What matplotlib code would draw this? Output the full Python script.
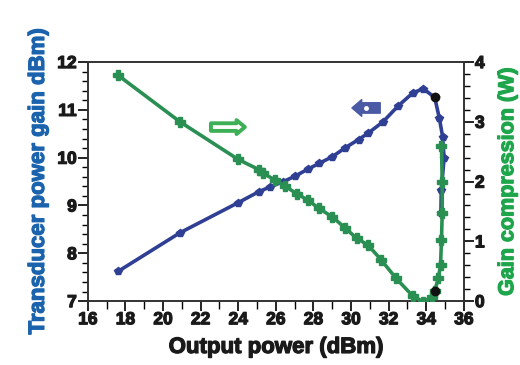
import numpy as np
import matplotlib.pyplot as plt
import matplotlib.patheffects as pe
from matplotlib.ticker import MultipleLocator

plt.rcParams['font.family'] = ['Liberation Sans', 'DejaVu Sans']
plt.rcParams['font.weight'] = 'bold'

# transducer power gain (left axis)
gain_x = [17.6, 20.9, 24.0, 25.1, 25.7, 26.4, 27.0, 27.7, 28.3, 29.0, 29.7, 30.4,
          30.9, 31.7, 32.5, 33.3, 33.85, 34.45, 34.7, 34.87, 34.95, 34.8, 34.78]
gain_y = [7.62, 8.43, 9.06, 9.29, 9.39, 9.50, 9.61, 9.76, 9.88, 10.02, 10.21, 10.38,
          10.51, 10.75, 11.08, 11.36, 11.44, 11.26, 10.82, 10.44, 9.99, 9.32, 8.85]

# gain compression (right axis)
comp_x = [17.6, 20.9, 24.0, 25.1, 25.3, 25.95, 26.5, 27.1, 27.7, 28.3, 29.0, 29.7,
          30.3, 30.9, 31.6, 32.4, 33.3, 33.85, 34.3, 34.45, 34.64, 34.76, 34.81,
          34.85, 34.85, 34.81]
comp_y = [3.78, 3.0, 2.37, 2.2, 2.14, 2.03, 1.92, 1.80, 1.69, 1.55, 1.41, 1.22,
          1.05, 0.94, 0.69, 0.38, 0.08, -0.01, 0.07, 0.17, 0.38, 0.60, 1.02,
          1.48, 2.0, 2.6]

# marked points
dot_x = [34.45]
dot_gain = [11.26]
dot_comp = [0.17]

blue = '#2f3f93'
green = '#2a8f52'

fig = plt.figure(figsize=(5.2, 3.65), dpi=100)
ax = fig.add_axes([0.169, 0.175, 0.723, 0.655])
ax2 = ax.twinx()

ax.plot(gain_x, gain_y, color=blue, lw=2.6, marker='p', ms=6, zorder=3)
ax2.plot(comp_x, comp_y, color=green, lw=2.6, marker='P', ms=7.5, zorder=3)
ax.plot(dot_x, dot_gain, 'o', color='#111111', ms=6, zorder=5)
ax2.plot(dot_x, dot_comp, 'o', color='#111111', ms=6, zorder=5)

ax.set_xlim(16, 36)
ax.set_ylim(7, 12)
ax2.set_ylim(0, 4)

ax.xaxis.set_major_locator(MultipleLocator(2))
ax.xaxis.set_minor_locator(MultipleLocator(1))
ax.yaxis.set_major_locator(MultipleLocator(1))
ax.yaxis.set_minor_locator(MultipleLocator(0.2))
ax2.yaxis.set_major_locator(MultipleLocator(1))
ax2.yaxis.set_minor_locator(MultipleLocator(0.2))

thick = [pe.withStroke(linewidth=0.9, foreground='#1a1a1a')]
for a in (ax, ax2):
    a.tick_params(which='major', direction='out', length=7, width=1.2,
                  labelsize=12.5, pad=1, labelcolor='#1a1a1a')
    a.tick_params(which='minor', direction='out', length=4, width=1)
    for s in a.spines.values():
        s.set_linewidth(1.2)
        s.set_color('#333333')
ax.tick_params(axis='x', which='minor', length=6)
for lbl in ax.get_xticklabels() + ax.get_yticklabels() + ax2.get_yticklabels():
    lbl.set_fontweight('bold')
    lbl.set_path_effects(thick)

ax.set_xlabel('Output power (dBm)', fontsize=16, fontweight='bold', labelpad=7,
              color='#1a1a1a', path_effects=thick)
ax.set_ylabel('Transducer power gain dBm)', fontsize=16, fontweight='bold',
              color='#1b63ad', labelpad=6,
              path_effects=[pe.withStroke(linewidth=0.9, foreground='#1b63ad')])
ax2.set_ylabel('Gain compression (W)', fontsize=15.5, fontweight='bold',
               color='#1fa64c', labelpad=9,
               path_effects=[pe.withStroke(linewidth=0.9, foreground='#1fa64c')])

# direction arrows
ax.annotate('', xy=(24.5, 10.64), xytext=(22.4, 10.64),
            arrowprops=dict(arrowstyle='simple,head_length=0.6,head_width=1.0,tail_width=0.55',
                            fc='white', ec='#3daf55', lw=2.8))
ax.annotate('', xy=(29.9, 11.04), xytext=(31.7, 11.04),
            arrowprops=dict(arrowstyle='simple,head_length=0.7,head_width=1.2,tail_width=0.75',
                            fc='#4a5aa5', ec='#4a5aa5', lw=1))
ax.plot([30.8], [11.04], 'o', color='white', ms=2.5, zorder=6)

fig.savefig('out.png', dpi=100)
